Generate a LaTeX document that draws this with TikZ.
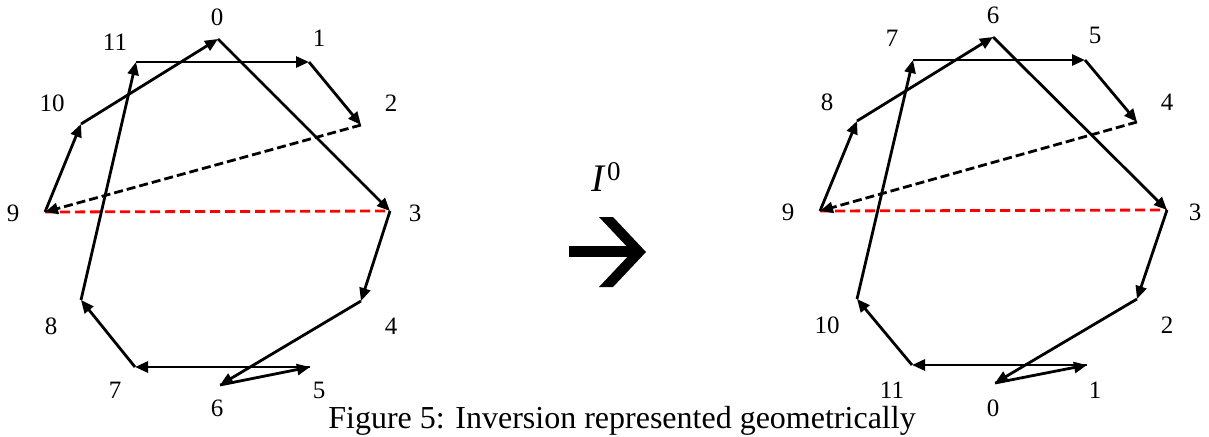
\documentclass[tikz,border=0pt]{standalone}
\usepackage{fontspec}
\setmainfont{Liberation Serif}
\usetikzlibrary{arrows.meta}
\tikzset{
  seg/.style={line width=2.8pt, -{Triangle[length=13pt,width=11pt]}},
  dseg/.style={line width=2.8pt, dash pattern=on 9pt off 4pt, -{Triangle[length=13pt,width=11pt]}},
  rseg/.style={line width=2.8pt, red, dash pattern=on 10pt off 5pt},
  lab/.style={font=\fontsize{25}{25}\selectfont, inner sep=0pt}
}
\begin{document}
\begin{tikzpicture}[x=1pt,y=-1pt]
\useasboundingbox (0,0) rectangle (1209,436);
% left vertices
\coordinate (L0) at (218,39);
\coordinate (L1) at (309,62);
\coordinate (L2) at (361,125);
\coordinate (L3) at (390,211);
\coordinate (L4) at (361,301);
\coordinate (L5) at (310,367);
\coordinate (L6) at (220,385);
\coordinate (L7) at (135,367);
\coordinate (L8) at (81,300);
\coordinate (L9) at (45,212);
\coordinate (L10) at (81,124);
\coordinate (L11) at (136,62);
% left labels
\node[lab] (l0) at (217,17) {0};
\node[lab] (l1) at (319,38) {1};
\node[lab] (l2) at (391,103) {2};
\node[lab] (l3) at (415,213) {3};
\node[lab] (l4) at (391,326) {4};
\node[lab] (l5) at (319,390) {5};
\node[lab] (l6) at (217,408) {6};
\node[lab] (l7) at (115,390) {7};
\node[lab] (l8) at (51,326) {8};
\node[lab] (l9) at (13,213) {9};
\node[lab] (l10) at (52,103) {10};
\node[lab] (l11) at (115,42) {11};
% left connectors
\draw[rseg] (L9) -- (L3);
\draw[seg] (L0) -- (L3);
\draw[seg] (L3) -- (L4);
\draw[seg] (L4) -- (L6);
\draw[seg] (L6) -- (L5);
\draw[seg] (L5) -- (L7);
\draw[seg] (L7) -- (L8);
\draw[seg] (L8) -- (L11);
\draw[seg] (L11) -- (L1);
\draw[seg] (L1) -- (L2);
\draw[dseg] (L2) -- (L9);
\draw[seg] (L9) -- (L10);
\draw[seg] (L10) -- (L0);
% right vertices
\coordinate (R6) at (993,37);
\coordinate (R5) at (1085,60);
\coordinate (R4) at (1137,122);
\coordinate (R3) at (1167,210);
\coordinate (R2) at (1137,299);
\coordinate (R1) at (1087,365);
\coordinate (R0) at (995,383);
\coordinate (R11) at (912,365);
\coordinate (R10) at (857,299);
\coordinate (R9) at (820,211);
\coordinate (R8) at (857,121);
\coordinate (R7) at (913,60);
% right labels
\node[lab] (r6) at (993,15) {6};
\node[lab] (r5) at (1095,35) {5};
\node[lab] (r4) at (1167,102) {4};
\node[lab] (r3) at (1195,212) {3};
\node[lab] (r2) at (1167,325) {2};
\node[lab] (r1) at (1095,390) {1};
\node[lab] (r0) at (993,408) {0};
\node[lab] (r11) at (892,390) {11};
\node[lab] (r10) at (827,325) {10};
\node[lab] (r9) at (788,212) {9};
\node[lab] (r8) at (827,102) {8};
\node[lab] (r7) at (892,38) {7};
% right connectors
\draw[rseg] (R9) -- (R3);
\draw[seg] (R6) -- (R3);
\draw[seg] (R3) -- (R2);
\draw[seg] (R2) -- (R0);
\draw[seg] (R0) -- (R1);
\draw[seg] (R1) -- (R11);
\draw[seg] (R11) -- (R10);
\draw[seg] (R10) -- (R7);
\draw[seg] (R7) -- (R5);
\draw[seg] (R5) -- (R4);
\draw[dseg] (R4) -- (R9);
\draw[seg] (R9) -- (R8);
\draw[seg] (R8) -- (R6);
% middle
\node[font=\fontsize{39}{39}\selectfont, inner sep=0pt] (inv) at (606,177) {\textit{I}\kern1pt\raisebox{11pt}{\fontsize{27}{27}\selectfont 0}};
\fill (569,246) rectangle (634,257);
\fill (599,217) -- (613,217) -- (646,252) -- (613,287) -- (599,287) -- (632,252) -- cycle;
% caption
\node[font=\fontsize{32}{32}\selectfont, inner sep=0pt, anchor=base] (cap) at (622,428) {Figure 5: Inversion represented geometrically};
\end{tikzpicture}
\end{document}
